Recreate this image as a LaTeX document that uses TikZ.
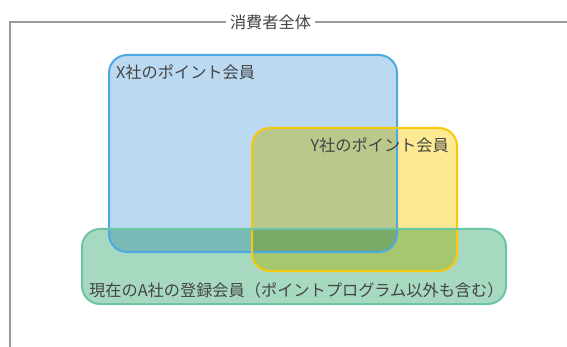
\documentclass[tikz,border=0pt]{standalone}
\usepackage{fontspec}
\setmainfont{Noto Sans CJK JP}
\definecolor{txt}{HTML}{444444}
\definecolor{frame}{HTML}{9A9A9A}
\definecolor{bfill}{HTML}{BBDAF2}
\definecolor{bline}{HTML}{4DAAE0}
\definecolor{yfill}{HTML}{FEEA93}
\definecolor{yline}{HTML}{F8C80E}
\definecolor{gfill}{HTML}{A6D9C0}
\definecolor{gline}{HTML}{6CC5A5}
\begin{document}
\begin{tikzpicture}[x=1pt,y=-1pt,
  lbl/.style={text=txt,font=\fontsize{16.2}{19}\selectfont,inner sep=0pt},
  setfill/.style={rounded corners=18pt},
  setline/.style={rounded corners=18pt,line width=2pt}]
\useasboundingbox (0,0) rectangle (567,347);
% frame
\draw[frame,line width=1.4pt] (567,22) -- (10,22) -- (10,347);
\node[lbl,fill=white,inner xsep=4pt,inner ysep=2pt] (title) at (270.5,22) {消費者全体};
% fills
\begin{scope}[blend group=multiply]
\path[setfill,fill=bfill] (109,55) rectangle (397,252);
\path[setfill,fill=yfill] (252,128) rectangle (457,271);
\path[setfill,fill=gfill] (82,229) rectangle (506,304);
\end{scope}
% borders
\draw[setline,bline] (109,55) rectangle (397,252);
\draw[setline,yline] (252,128) rectangle (457,271);
\draw[setline,gline] (82,229) rectangle (506,304);
% labels
\node[lbl,anchor=west] (xl) at (116,72) {X社のポイント会員};
\node[lbl,anchor=east] (yl) at (449,145) {Y社のポイント会員};
\node[lbl,anchor=west] (al) at (89,290) {現在のA社の登録会員（ポイントプログラム以外も含む）};
\end{tikzpicture}
\end{document}
